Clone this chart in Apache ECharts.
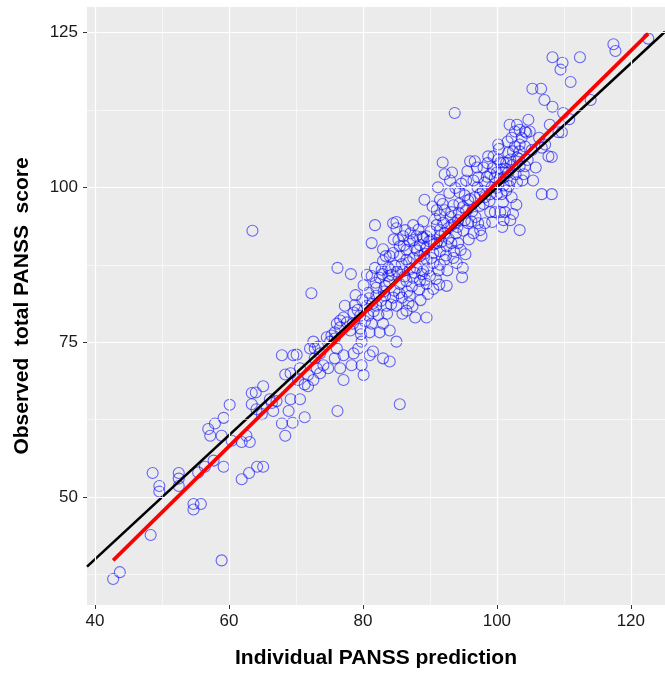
<!DOCTYPE html>
<html>
<head>
<meta charset="utf-8">
<title>PANSS prediction vs observed</title>
<script src="https://cdn.jsdelivr.net/npm/echarts@6/dist/echarts.min.js"></script>
<style>
  html, body { margin: 0; padding: 0; background: #ffffff; }
  #chart { width: 665px; height: 674px; }
</style>
</head>
<body>
<div id="chart"></div>
<script>
// axis ticks / gridlines
var xMajor = [40, 60, 80, 100, 120];
var xMinor = [50, 70, 90, 110];
var yMajor = [50, 75, 100, 125];
var yMinor = [37.5, 62.5, 87.5, 112.5];

// [individual prediction, observed total PANSS]
var panssPoints = [
  [42.7,36.8],[43.7,37.9],[58.9,39.8],[48.3,43.9],[54.7,48.9],[55.8,48.9],[54.7,48.0],[48.6,53.9],[49.6,51.8],[49.6,50.9],
  [52.5,53.9],[52.5,53.0],[52.5,51.8],[55.4,54.0],[56.4,54.9],[57.7,55.9],[59.2,54.9],[61.9,52.9],[63.0,53.9],[64.2,54.9],[65.1,54.9],
  [60.1,64.9],[57.9,61.9],[59.2,62.8],[56.9,61.0],[57.2,59.9],[58.9,59.9],[60.4,59.1],[61.9,58.9],[63.1,58.9],[62.6,59.9],
  [63.4,65.0],[64.1,64.2],[64.9,63.4],[63.4,66.8],[64.0,66.9],[65.1,67.9],[66.1,65.8],[66.4,65.2],[67.1,65.5],[66.6,63.9],
  [67.9,61.9],[68.9,63.9],[69.5,62.0],[68.4,59.9],[71.3,62.9],[67.9,72.9],[68.4,69.8],[69.2,70.0],[69.6,72.9],[70.1,73.0],
  [70.6,70.8],[70.3,68.9],[71.3,68.2],[71.8,67.9],[70.6,65.8],[69.2,65.8],[72.1,74.0],[72.6,75.1],[72.8,74.0],[73.3,74.3],
  [73.6,73.2],[72.8,72.4],[73.1,70.8],[73.6,70.0],[72.6,68.9],[71.8,69.7],[74.1,71.3],[74.8,70.8],[74.6,75.8],[75.1,75.1],
  [75.3,76.1],[75.8,75.6],[76.1,74.0],[76.6,70.8],[76.2,63.9],
  [77.1,68.9],[80.1,69.7],[79.8,71.3],[78.3,71.3],[75.8,72.4],[77.1,72.9],[78.6,73.2],[81.0,72.9],[81.5,73.5],[83.0,72.4],
  [84.0,71.9],[85.0,75.1],[79.8,75.1],[79.3,74.0],[89.5,79.0],
  [72.3,82.9],[76.2,87.0],[78.2,86.0],[81.8,93.9],[81.3,91.0],[83.0,90.0],[84.0,88.9],[83.0,88.1],[81.8,87.0],[82.8,86.7],
  [83.8,87.0],[81.3,85.7],[82.5,85.4],[83.8,85.7],[80.8,83.0],[82.0,83.8],[83.3,84.1],[82.0,82.5],[83.3,82.5],[80.6,80.9],
  [82.0,80.9],[83.5,80.9],[77.3,80.9],[78.8,81.0],[77.1,79.0],[76.1,78.0],[76.6,78.5],[75.8,76.6],[77.6,78.2],[78.6,79.8],
  [79.6,79.3],[80.8,79.3],[81.3,78.0],[83.0,78.0],[84.0,76.9],[82.5,76.6],[81.0,76.6],[79.6,77.2],[78.1,76.9],[76.6,77.4],
  [84.5,82.2],[85.8,82.2],[87.0,82.5],[85.0,80.9],[86.5,80.1],[87.8,79.0],
  [91.9,104.0],[92.2,102.1],[93.0,101.1],[91.2,100.0],[89.2,98.0],[91.5,98.0],[95.4,101.1],[94.4,99.2],[95.2,98.7],[91.0,96.3],
  [91.5,95.5],[92.2,96.3],[93.2,96.0],[93.5,97.1],[94.4,97.4],[94.9,96.8],[95.7,97.9],[95.7,94.2],[95.2,94.7],[94.2,94.7],
  [93.7,94.2],[93.2,93.9],[92.7,93.4],[92.2,92.6],[91.5,93.1],[91.5,92.1],[91.0,91.0],[90.2,91.5],[89.5,92.1],[89.0,91.8],
  [88.0,92.1],[87.5,91.5],[87.0,91.3],[86.0,92.1],[85.0,93.4],[84.5,94.2],[85.0,94.4],[87.5,93.9],[86.3,93.1],[85.5,90.5],
  [86.5,89.9],[87.8,90.2],[88.5,90.7],[89.5,90.2],[90.5,89.4],[91.5,89.7],[92.5,90.5],[93.2,91.0],[94.2,91.0],[94.0,87.8],
  [94.9,87.0],[92.2,88.3],[91.5,87.5],[90.5,87.8],[89.5,88.3],[88.5,88.9],[87.5,88.6],[86.5,88.3],[85.5,88.9],[84.5,89.4],
  [84.8,87.3],[86.0,86.5],[87.0,86.8],[88.0,87.0],[89.0,86.5],[90.0,85.7],[90.9,85.2],[89.5,84.4],[88.5,84.9],[87.5,85.4],
  [86.5,84.9],[85.5,84.4],[90.5,83.6],[92.5,84.1],[89.7,82.8],
  [101.9,110.1],[103.0,110.1],[102.7,109.0],[103.4,109.3],[104.2,109.0],[104.4,108.8],[103.7,108.0],[102.2,108.0],[103.4,106.9],[102.7,106.6],
  [101.7,105.6],[102.4,105.8],[103.4,105.8],[104.2,106.6],[103.0,104.8],[102.0,104.5],[101.0,104.0],[100.2,106.9],[107.2,106.9],[106.7,106.4],
  [107.7,105.0],[108.2,104.9],[105.4,101.1],[106.7,98.9],[108.2,98.9],[104.0,102.1],[104.2,103.4],[103.4,103.4],
  [96.0,104.2],[96.7,104.2],[97.0,103.2],[98.0,103.2],[98.7,105.0],[99.5,105.0],[100.2,104.5],[100.5,104.0],[101.4,104.0],[100.7,102.9],
  [100.0,102.4],[99.0,102.1],[99.7,101.6],[101.0,101.6],[101.7,102.4],[102.0,101.1],[101.0,100.3],[101.4,99.5],[100.7,98.9],[100.0,98.9],
  [99.0,98.9],[98.2,98.4],[97.5,98.9],[96.7,98.4],[96.0,98.1],[96.5,101.1],[97.2,101.6],[98.2,100.8],[99.2,100.0],[98.0,97.3],
  [99.0,96.0],[99.7,96.0],[100.5,96.0],[101.2,96.0],[102.4,95.7],[102.0,94.7],[101.0,94.7],[98.2,94.2],[97.2,94.2],[97.5,93.1],
  [96.5,92.6],[103.4,93.1],[103.0,100.8],[102.2,98.4],
  [122.6,124.0],[117.4,123.1],[117.7,122.0],[108.3,121.0],[109.8,120.1],[109.5,119.0],[112.4,121.0],[111.0,117.0],[105.3,115.9],[106.6,115.9],
  [107.1,114.1],[108.3,113.0],[114.0,114.1],[109.9,112.0],[110.8,111.0],[107.9,110.1],[109.2,108.9],[109.7,108.9],[104.9,109.0],
  [63.5,93.0],[93.7,112.0],[85.5,65.0],
  // overlapping circles in the dense core
  [78.5,78.0],[79.2,80.2],[79.9,81.8],[80.3,78.4],[80.9,82.1],[81.6,80.0],[81.9,84.6],[82.3,79.4],[82.7,81.7],[83.1,83.2],
  [83.6,79.6],[83.9,84.8],[78.9,82.6],[80.1,84.2],[81.4,81.2],[82.9,86.0],[84.2,81.1],[79.7,76.3],[80.6,85.9],[83.4,88.9],
  [84.3,85.9],[84.7,83.3],[85.1,86.4],[85.4,82.9],[85.8,87.6],[86.2,85.6],[86.6,83.2],[86.9,87.9],[87.3,84.0],[87.7,86.2],
  [88.1,89.8],[88.4,83.5],[88.8,86.0],[89.2,89.3],[89.6,86.9],[89.9,91.3],[85.3,91.5],[86.1,90.6],[87.1,92.6],[88.3,93.2],
  [89.0,94.5],[84.6,91.6],[86.8,81.3],[88.6,81.8],[89.3,85.1],[85.9,79.6],[87.4,80.8],[88.9,92.0],[90.1,92.9],[84.1,86.6],
  [90.2,88.6],[90.6,90.8],[91.0,93.9],[91.3,86.6],[91.7,91.2],[92.0,94.3],[92.4,89.0],[92.8,91.7],[93.1,95.2],[93.5,88.6],
  [93.9,92.6],[94.3,95.9],[94.6,89.9],[95.0,93.0],[95.4,96.3],[95.8,91.6],[90.8,94.9],[91.9,97.3],[92.9,99.1],[93.8,99.9],
  [94.7,100.6],[95.6,102.6],[92.6,86.6],[93.6,89.7],[94.8,85.5],[95.3,89.2],[90.4,96.9],[91.4,84.3],[93.3,102.4],[94.1,93.6],
  [96.3,96.1],[96.8,95.2],[97.4,97.0],[97.9,99.4],[98.5,101.7],[98.9,97.8],[99.4,103.1],[99.9,99.9],[100.4,101.4],[100.9,97.6],
  [101.3,103.0],[101.8,100.2],[102.3,103.6],[102.8,102.1],[103.3,104.6],[103.8,101.1],[97.1,100.0],[98.6,103.9],[100.3,106.2],[101.6,107.4],
  [96.2,94.5],[97.7,92.2],[99.3,94.4],[100.8,93.6],[102.9,97.2],[104.6,104.4],[105.2,106.0],[105.8,103.2],[106.3,108.0],[104.7,110.9]
];

// y = x reference and the linear fit (end points)
var identityLine = [[38.8, 38.8], [125.1, 125.1]];
var fitLine = [[42.7, 39.8], [122.6, 124.8]];

var chart = echarts.init(document.getElementById('chart'));

function gridLines(xs, ys, width) {
  return {
    type: 'line',
    data: [],
    z: 1,
    silent: true,
    markLine: {
      silent: true,
      symbol: ['none', 'none'],
      label: { show: false },
      lineStyle: { color: '#ffffff', width: width, type: 'solid' },
      emphasis: { disabled: true },
      data: xs.map(function (v) { return { xAxis: v }; })
        .concat(ys.map(function (v) { return { yAxis: v }; }))
    }
  };
}

chart.setOption({
  animation: false,
  backgroundColor: '#ffffff',
  textStyle: { fontFamily: 'Liberation Sans' },
  grid: {
    left: 87, right: 0, top: 7, bottom: 61,
    show: true,
    backgroundColor: '#ebebeb',
    borderWidth: 0
  },
  xAxis: {
    type: 'value',
    min: 38.8,
    max: 125.1,
    splitLine: { show: false },
    axisLine: { show: false },
    axisTick: { show: true, customValues: xMajor, length: 4, lineStyle: { color: '#333333' } },
    axisLabel: { customValues: xMajor, fontSize: 17, color: '#1a1a1a', margin: 8 },
    name: 'Individual PANSS prediction',
    nameLocation: 'middle',
    nameGap: 43,
    nameTextStyle: { fontSize: 21, fontWeight: 'bold', color: '#000000' }
  },
  yAxis: {
    type: 'value',
    min: 32.6,
    max: 129.1,
    splitLine: { show: false },
    axisLine: { show: false },
    axisTick: { show: true, customValues: yMajor, length: 4, lineStyle: { color: '#333333' } },
    axisLabel: { customValues: yMajor, fontSize: 17, color: '#1a1a1a', margin: 9 },
    name: 'Observed  total PANSS  score',
    nameLocation: 'middle',
    nameGap: 54,
    nameRotate: 90,
    nameTextStyle: { fontSize: 21, fontWeight: 'bold', color: '#000000' }
  },
  series: [
    gridLines(xMinor, yMinor, 0.6),
    gridLines(xMajor, yMajor, 1.2),
    {
      type: 'scatter',
      data: panssPoints,
      z: 3,
      symbol: 'circle',
      symbolSize: 11,
      itemStyle: { color: 'rgba(0,0,0,0)', borderColor: 'rgba(0,0,255,0.72)', borderWidth: 1.1 }
    },
    {
      type: 'line',
      data: identityLine,
      z: 4,
      symbol: 'none',
      lineStyle: { color: '#000000', width: 2.6 }
    },
    {
      type: 'line',
      data: fitLine,
      z: 5,
      symbol: 'none',
      lineStyle: { color: '#ff0000', width: 3.6 }
    }
  ]
});
</script>
</body>
</html>
